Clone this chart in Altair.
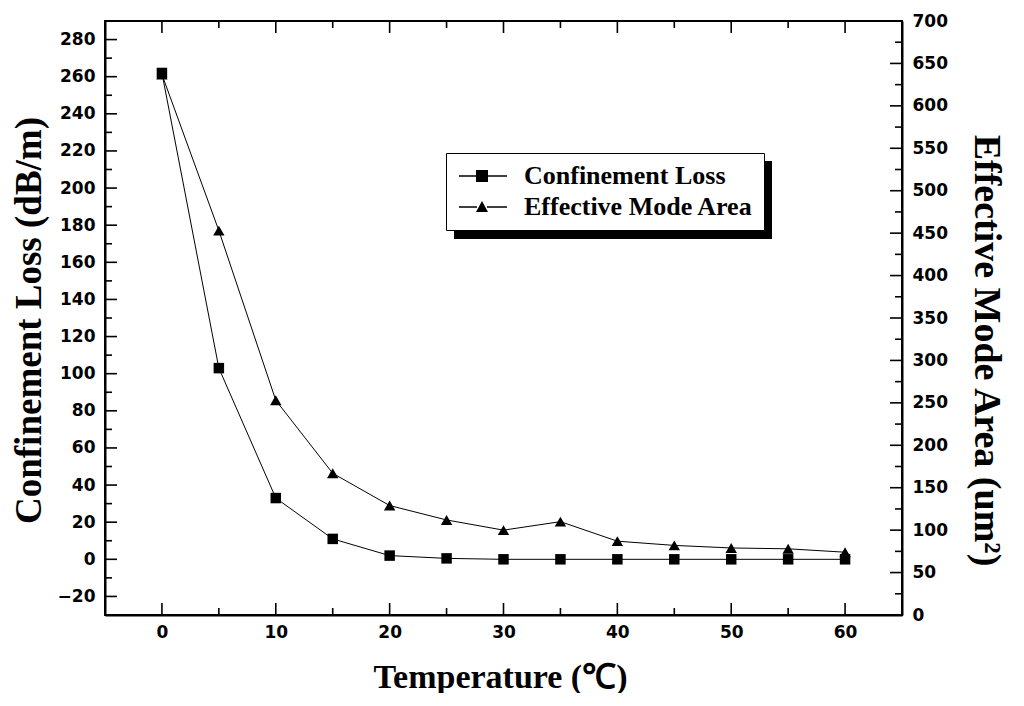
import altair as alt
import pandas as pd

# ---------------- data ----------------
temperature = [0, 5, 10, 15, 20, 25, 30, 35, 40, 45, 50, 55, 60]
confinement_loss = [262, 103, 33, 11, 2, 0.5, 0, 0, 0, 0, 0, 0, 0]
mode_area = [637, 453, 253, 167, 129, 112, 100, 110, 87, 82, 79, 78, 74]
series_names = ["Confinement Loss", "Effective Mode Area"]

x_label_values = [0, 10, 20, 30, 40, 50, 60]
x_minor_values = [5, 15, 25, 35, 45, 55]
left_label_values = [-20, 0, 20, 40, 60, 80, 100, 120, 140, 160, 180, 200, 220, 240, 260, 280]
left_minor_values = [-10, 10, 30, 50, 70, 90, 110, 130, 150, 170, 190, 210, 230, 250, 270]
right_label_values = [0, 50, 100, 150, 200, 250, 300, 350, 400, 450, 500, 550, 600, 650, 700]
right_minor_values = [25, 75, 125, 175, 225, 275, 325, 375, 425, 475, 525, 575, 625, 675]

# ---------------- layout ----------------
W, H = 797, 594
MAJ, MIN = 12, 7
TW = 1.6
TICK_COLOR = "black"
TICK_FONT = "DejaVu Sans"
TITLE_FONT = "Liberation Serif"

df = pd.DataFrame({"t": temperature, "cl": confinement_loss, "ma": mode_area})

x_scale = alt.Scale(domain=[-5, 65], nice=False, zero=False)
yl_scale = alt.Scale(domain=[-30, 290], nice=False, zero=False)
yr_scale = alt.Scale(domain=[0, 700], nice=False, zero=False)

x_axis = alt.Axis(values=x_label_values, title="Temperature (℃)", ticks=False, grid=False,
                  labelPadding=9, titleX=395, titleY=62, titleBaseline="middle",
                  titleAnchor="middle", titleFontSize=34)
yl_axis = alt.Axis(values=left_label_values, title="Confinement Loss (dB/m)", orient="left",
                   ticks=False, grid=False, labelPadding=10, titleFontSize=37,
                   titleX=-76, titleY=299, titleBaseline="middle", titleAngle=270)
yr_axis = alt.Axis(values=right_label_values, title="Effective Mode Area (um²)", orient="right",
                   ticks=False, grid=False, labelPadding=10, titleFontSize=38,
                   titleX=83, titleY=329, titleBaseline="middle", titleAngle=90)

# every layer uses the very same x encoding so that the single shared x axis survives
x_enc = alt.X("t:Q", scale=x_scale, axis=x_axis)
yl_plain = alt.Y("cl:Q", scale=yl_scale, axis=None)
yr_plain = alt.Y("ma:Q", scale=yr_scale, axis=None)

# ---------------- data marks ----------------
cl_line = alt.Chart(df).mark_line(color="black", strokeWidth=1).encode(
    x=x_enc, y=alt.Y("cl:Q", scale=yl_scale, axis=yl_axis))
cl_pts = alt.Chart(df).mark_point(shape="square", filled=True, size=110, color="black",
                                  opacity=1).encode(x=x_enc, y=yl_plain)
ma_line = alt.Chart(df).mark_line(color="black", strokeWidth=1).encode(
    x=x_enc, y=alt.Y("ma:Q", scale=yr_scale, axis=yr_axis))
ma_pts = alt.Chart(df).mark_point(shape="triangle-up", filled=True, size=130, color="black",
                                  opacity=1).encode(x=x_enc, y=yr_plain)

# ---------------- inward ticks (drawn through the same scales) ----------------
xmaj = pd.DataFrame({"t": x_label_values})
xmin = pd.DataFrame({"t": x_minor_values})
lmaj = pd.DataFrame({"cl": left_label_values})
lmin = pd.DataFrame({"cl": left_minor_values})
rmaj = pd.DataFrame({"ma": right_label_values})
rmin = pd.DataFrame({"ma": right_minor_values})


def rule(data):
    return alt.Chart(data).mark_rule(color=TICK_COLOR, strokeWidth=TW, opacity=1)


tick_layers = [
    rule(xmaj).encode(x=x_enc, y=alt.value(H - MAJ), y2=alt.value(H)),
    rule(xmin).encode(x=x_enc, y=alt.value(H - MIN), y2=alt.value(H)),
    rule(xmaj).encode(x=x_enc, y=alt.value(0), y2=alt.value(MAJ)),
    rule(xmin).encode(x=x_enc, y=alt.value(0), y2=alt.value(MIN)),
    rule(lmaj).encode(y=yl_plain, x=alt.value(0), x2=alt.value(MAJ)),
    rule(lmin).encode(y=yl_plain, x=alt.value(0), x2=alt.value(MIN)),
    rule(rmaj).encode(y=yr_plain, x=alt.value(W - MAJ), x2=alt.value(W)),
    rule(rmin).encode(y=yr_plain, x=alt.value(W - MIN), x2=alt.value(W)),
]

# ---------------- legend ----------------
sq_path = ("M-1,-0.08H0.7V0.08H-1Z M0.7,-0.6H1.9V0.6H0.7Z M1.9,-0.08H3.8V0.08H1.9Z")
tri_path = ("M-1,-0.08H0.8V0.08H-1Z M0.7,0.5L1.3,-0.6L1.9,0.5Z M1.8,-0.08H3.8V0.08H1.8Z")

leg_df = pd.DataFrame({"series": series_names, "t": [None, None], "cl": [None, None]})
legend_layer = alt.Chart(leg_df).mark_point(filled=True, color="black", size=400,
                                            opacity=1).encode(
    x=x_enc, y=yl_plain,
    shape=alt.Shape("series:N",
                    scale=alt.Scale(domain=series_names, range=[sq_path, tri_path]),
                    legend=alt.Legend(title=None, orient="none", legendX=341, legendY=132,
                                      fillColor="white", strokeColor="black",
                                      padding=10, rowPadding=5,
                                      labelFont=TITLE_FONT, labelFontWeight="bold",
                                      labelFontSize=26, labelColor="black",
                                      labelOffset=42, labelLimit=500,
                                      symbolSize=400, symbolFillColor="black")),
)

# legend drop shadow (decoration)
shadow = alt.Chart(pd.DataFrame({"d": [0]})).mark_rect(fill="black").encode(
    x=alt.value(349), x2=alt.value(667), y=alt.value(140), y2=alt.value(218))

chart = alt.layer(
    shadow, cl_line, cl_pts, ma_line, ma_pts, *tick_layers, legend_layer
).resolve_scale(y="independent").properties(
    width=W, height=H,
    autosize=alt.AutoSizeParams(type="none"),
    padding={"left": 97, "top": 13, "right": 110, "bottom": 78},
).configure_view(
    stroke="black", strokeWidth=2
).configure_axis(
    domainColor="black", domainWidth=2,
    labelFont=TICK_FONT, labelFontWeight="bold", labelFontSize=17, labelColor="black",
    titleFont=TITLE_FONT, titleFontWeight="bold", titleColor="black",
)

chart.save("out.html", embed_options={"renderer": "svg", "actions": False})
